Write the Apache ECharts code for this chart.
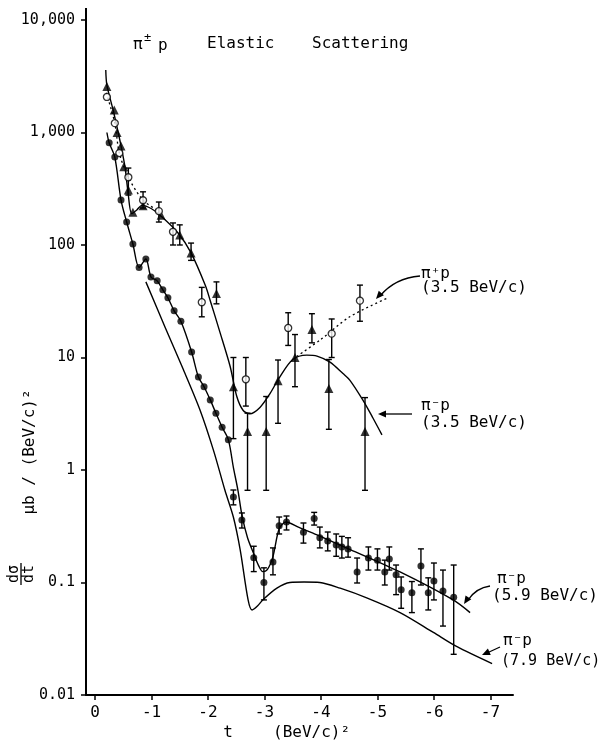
<!DOCTYPE html>
<html><head><meta charset="utf-8">
<script src="https://cdn.jsdelivr.net/npm/echarts@6/dist/echarts.min.js"></script>
<style>html,body{margin:0;padding:0;background:#fff}#c{width:607px;height:745px}</style>
</head><body><div id="c"></div>
<script>
// ---- tick labels ----
const xTickValues = [0, -1, -2, -3, -4, -5, -6, -7];
const yTickValues = [0.01, 0.1, 1, 10, 100, 1000, 10000];
const yTickLabels = ['0.01', '0.1', '1', '10', '100', '1,000', '10,000'];

// ---- pi- p 3.5 BeV/c : filled triangles [t, dσ/dt] ----
const piMinus35Points = [
  [-0.21, 2570], [-0.34, 1585], [-0.39, 1000], [-0.46, 760], [-0.51, 495], [-0.59, 308],
  [-0.67, 195], [-0.85, 223], [-1.17, 184], [-1.5, 123], [-1.70, 85], [-2.15, 37],
  [-2.45, 5.5], [-2.7, 2.2], [-3.03, 2.2], [-3.24, 6.2], [-3.54, 10], [-3.84, 17.7],
  [-4.14, 5.3], [-4.78, 2.2]
];
// error bars [t, low, high]
const piMinus35Errors = [
  [-1.5, 100, 151], [-1.70, 73, 104], [-2.15, 30, 47], [-2.45, 1.9, 10], [-2.7, 0.66, 3.2],
  [-3.03, 0.66, 4.5], [-3.24, 2.6, 9.5], [-3.54, 5.5, 16], [-3.84, 13.5, 24.5],
  [-4.14, 2.3, 9.6], [-4.78, 0.66, 4.4]
];
// theory curve pi- p 3.5
const piMinus35Curve = [
  [-0.19, 3600], [-0.21, 2640], [-0.32, 1585], [-0.41, 1000], [-0.46, 760], [-0.53, 495],
  [-0.58, 308], [-0.65, 190], [-0.74, 205], [-0.83, 225], [-1.0, 210], [-1.15, 184],
  [-1.47, 128], [-1.70, 85], [-1.95, 44], [-2.04, 32], [-2.2, 17.5], [-2.39, 8.4],
  [-2.51, 4.5], [-2.62, 3.4], [-2.74, 3.16], [-2.92, 3.6], [-3.10, 4.8], [-3.27, 6.7],
  [-3.5, 9.6], [-3.75, 10.5], [-3.93, 10.3], [-4.16, 9.1], [-4.39, 7.2], [-4.51, 6.3],
  [-4.74, 4.2], [-4.92, 2.9], [-5.08, 2.05]
];

// ---- pi+ p 3.5 BeV/c : open circles ----
const piPlus35Points = [
  [-0.21, 2070], [-0.35, 1210], [-0.43, 656], [-0.59, 400], [-0.85, 250], [-1.13, 200],
  [-1.38, 131], [-1.89, 31], [-2.67, 6.4], [-3.42, 18.3], [-4.19, 16.3], [-4.69, 32]
];
const piPlus35Errors = [
  [-0.59, 278, 483], [-0.85, 213, 297], [-1.13, 160, 241], [-1.38, 100, 157], [-1.89, 23, 42],
  [-2.67, 3.7, 10], [-3.42, 12.8, 25], [-4.19, 10, 22], [-4.69, 21, 44]
];
// dotted curves for pi+ p
const piPlus35CurveLow = [
  [-0.2, 2250], [-0.35, 1210], [-0.43, 656], [-0.59, 400], [-0.85, 250], [-1.13, 200]
];
const piPlus35CurveHigh = [
  [-3.57, 10.2], [-4.0, 14.5], [-4.51, 23], [-5.19, 34]
];

// ---- pi- p 5.9 BeV/c : filled circles ----
const piMinus59Points = [
  [-0.25, 810], [-0.35, 605], [-0.46, 251], [-0.56, 160], [-0.67, 102], [-0.78, 63],
  [-0.9, 75], [-0.99, 52], [-1.1, 48], [-1.2, 40], [-1.29, 34], [-1.4, 26], [-1.52, 21],
  [-1.71, 11.2], [-1.83, 6.7], [-1.93, 5.5], [-2.04, 4.2], [-2.14, 3.2], [-2.25, 2.4],
  [-2.36, 1.86], [-2.45, 0.575], [-2.6, 0.36], [-2.81, 0.166], [-2.99, 0.10], [-3.15, 0.152],
  [-3.26, 0.32], [-3.39, 0.345], [-3.69, 0.28], [-3.88, 0.37], [-3.98, 0.25], [-4.12, 0.234],
  [-4.27, 0.215], [-4.37, 0.207], [-4.48, 0.199], [-4.64, 0.124], [-4.84, 0.165],
  [-5.0, 0.158], [-5.13, 0.124], [-5.21, 0.162], [-5.33, 0.117], [-5.42, 0.086],
  [-5.61, 0.081], [-5.77, 0.14], [-5.9, 0.081], [-6.0, 0.103], [-6.16, 0.084], [-6.35, 0.074]
];
const piMinus59Errors = [
  [-2.45, 0.49, 0.664], [-2.6, 0.305, 0.415], [-2.81, 0.125, 0.21], [-2.99, 0.07, 0.135],
  [-3.15, 0.117, 0.203], [-3.26, 0.27, 0.382], [-3.39, 0.293, 0.39], [-3.69, 0.224, 0.338],
  [-3.88, 0.324, 0.42], [-3.98, 0.203, 0.311], [-4.12, 0.191, 0.281], [-4.27, 0.171, 0.27],
  [-4.37, 0.165, 0.257], [-4.48, 0.168, 0.25], [-4.64, 0.099, 0.165], [-4.84, 0.129, 0.207],
  [-5.0, 0.129, 0.199], [-5.13, 0.095, 0.158], [-5.21, 0.129, 0.207], [-5.33, 0.078, 0.143],
  [-5.42, 0.059, 0.112], [-5.61, 0.054, 0.102], [-5.77, 0.095, 0.199], [-5.9, 0.057, 0.11],
  [-6.0, 0.07, 0.149], [-6.16, 0.041, 0.129], [-6.35, 0.023, 0.143]
];
const piMinus59Curve = [
  [-0.21, 1000], [-0.25, 810], [-0.35, 605], [-0.46, 251], [-0.56, 160], [-0.67, 102],
  [-0.78, 63], [-0.9, 75], [-0.99, 52], [-1.1, 48], [-1.2, 40], [-1.29, 34], [-1.4, 26],
  [-1.52, 21], [-1.71, 11.2], [-1.83, 6.7], [-1.93, 5.5], [-2.04, 4.2], [-2.14, 3.2],
  [-2.25, 2.4], [-2.36, 1.86], [-2.45, 1.05], [-2.53, 0.66], [-2.6, 0.4], [-2.7, 0.25],
  [-2.81, 0.18], [-2.9, 0.14], [-2.97, 0.125], [-3.05, 0.13], [-3.15, 0.17], [-3.26, 0.3],
  [-3.38, 0.345], [-3.6, 0.31], [-3.93, 0.265], [-4.51, 0.197], [-5.4, 0.124],
  [-6.34, 0.07], [-6.64, 0.054]
];

// ---- pi- p 7.9 BeV/c : curve only ----
const piMinus79Curve = [
  [-0.9, 47], [-1.24, 18.6], [-1.55, 8.1], [-1.86, 3.4], [-2.1, 1.48], [-2.3, 0.66],
  [-2.45, 0.38], [-2.57, 0.195], [-2.71, 0.07], [-2.78, 0.057], [-2.88, 0.062],
  [-2.97, 0.07], [-3.22, 0.089], [-3.45, 0.1], [-3.7, 0.101], [-3.98, 0.1], [-4.34, 0.089],
  [-4.81, 0.073], [-5.4, 0.054], [-5.99, 0.036], [-6.4, 0.027], [-7.03, 0.019]
];

const FONT = '"DejaVu Sans Mono", monospace';
const chart = echarts.init(document.getElementById('c'), null, { renderer: 'canvas' });

function fmtY(v) {
  for (let i = 0; i < yTickValues.length; i++) {
    if (Math.abs(Math.log10(v) - Math.log10(yTickValues[i])) < 1e-6) return yTickLabels[i];
  }
  return '';
}

function errorRender(params, api) {
  const x = api.value(0), lo = api.value(1), hi = api.value(2);
  const p1 = api.coord([x, hi]);
  const p2 = api.coord([x, lo]);
  const w = 3;
  const st = { stroke: '#000', lineWidth: 1.4 };
  return {
    type: 'group',
    children: [
      { type: 'line', shape: { x1: p1[0], y1: p1[1], x2: p2[0], y2: p2[1] }, style: st },
      { type: 'line', shape: { x1: p1[0] - w, y1: p1[1], x2: p1[0] + w, y2: p1[1] }, style: st },
      { type: 'line', shape: { x1: p2[0] - w, y1: p2[1], x2: p2[0] + w, y2: p2[1] }, style: st }
    ]
  };
}

function lineSeries(data, dotted) {
  return {
    type: 'line', data: data, showSymbol: false, symbol: 'none', smooth: 0.3,
    lineStyle: { color: '#000', width: dotted ? 1.3 : 1.4, type: dotted ? [2, 3] : 'solid' },
    z: 2, silent: true, animation: false
  };
}

function arrowHead(x, y, ang) {
  const L = 8, W = 3.5;
  const c = Math.cos(ang), s = Math.sin(ang);
  const bx = x - L * c, by = y - L * s;
  return {
    type: 'polygon',
    shape: { points: [[x, y], [bx - W * s, by + W * c], [bx + W * s, by - W * c]] },
    style: { fill: '#000' }
  };
}

function txt(x, y, text, size, align, rot) {
  return {
    type: 'text', x: x, y: y, rotation: rot || 0,
    style: { text: text, font: size + 'px ' + FONT, fill: '#000', textAlign: align || 'left', textVerticalAlign: 'middle' }
  };
}

const allErrors = piMinus35Errors.concat(piPlus35Errors, piMinus59Errors);

chart.setOption({
  animation: false,
  backgroundColor: '#fff',
  grid: { left: 86, right: 94, top: 20, bottom: 50 },
  xAxis: {
    type: 'value', inverse: true, min: -7.4, max: 0.16,
    axisLine: { onZero: false, lineStyle: { color: '#000', width: 2 } },
    axisTick: { show: true, customValues: xTickValues, length: 5, lineStyle: { color: '#000', width: 1.5 } },
    axisLabel: { customValues: xTickValues, color: '#000', fontFamily: FONT, fontSize: 16, margin: 10,
      formatter: v => (v === 0 ? '0' : String(v)) },
    splitLine: { show: false }
  },
  yAxis: {
    type: 'log', logBase: 10, min: 0.01, max: 10000,
    axisLine: { onZero: false, lineStyle: { color: '#000', width: 2 } },
    axisTick: { show: true, length: 5, lineStyle: { color: '#000', width: 1.5 } },
    axisLabel: { color: '#000', fontFamily: FONT, fontSize: 15, margin: 11, formatter: fmtY },
    splitLine: { show: false },
    minorTick: { show: false }
  },
  series: [
    lineSeries(piMinus35Curve, false),
    lineSeries(piPlus35CurveLow, true),
    lineSeries(piPlus35CurveHigh, true),
    lineSeries(piMinus59Curve, false),
    lineSeries(piMinus79Curve, false),
    {
      type: 'custom', renderItem: errorRender, data: allErrors,
      encode: { x: 0, y: [1, 2] }, z: 3, silent: true
    },
    {
      type: 'scatter', data: piMinus35Points, symbol: 'triangle', symbolSize: 9,
      itemStyle: { color: '#000' }, z: 5, silent: true
    },
    {
      type: 'scatter', data: piPlus35Points, symbol: 'circle', symbolSize: 7,
      itemStyle: { color: '#fff', borderColor: '#000', borderWidth: 1.3 }, z: 6, silent: true
    },
    {
      type: 'scatter', data: piMinus59Points, symbol: 'circle', symbolSize: 7,
      itemStyle: { color: '#000' }, z: 5, silent: true
    }
  ],
  graphic: [
    // axis line extension above the top tick
    { type: 'line', shape: { x1: 86, y1: 8, x2: 86, y2: 20 }, style: { stroke: '#000', lineWidth: 2 } },
    // title
    txt(133, 45, 'π', 16),
    txt(144, 38, '±', 12),
    txt(158, 46, 'p', 16),
    txt(207, 44, 'Elastic', 16),
    txt(312, 44, 'Scattering', 16),
    // annotations
    txt(421, 274, 'π⁺p', 16),
    txt(421, 288, '(3.5 BeV/c)', 16),
    txt(421, 406, 'π⁻p', 16),
    txt(421, 423, '(3.5 BeV/c)', 16),
    txt(497, 579, 'π⁻p', 16),
    txt(492, 596, '(5.9 BeV/c)', 16),
    txt(503, 641, 'π⁻p', 16),
    txt(501, 661, '(7.9 BeV/c)', 15),
    // arrows
    { type: 'bezierCurve', shape: { x1: 420, y1: 276, x2: 380, y2: 296, cpx1: 395, cpy1: 278 }, style: { stroke: '#000', lineWidth: 1.3, fill: 'none' } },
    arrowHead(376, 299, Math.atan2(297 - 278, 378 - 395)),
    { type: 'line', shape: { x1: 412, y1: 414, x2: 384, y2: 414 }, style: { stroke: '#000', lineWidth: 1.3 } },
    arrowHead(378, 414, Math.PI),
    { type: 'bezierCurve', shape: { x1: 490, y1: 586, x2: 468, y2: 600, cpx1: 476, cpy1: 588 }, style: { stroke: '#000', lineWidth: 1.3, fill: 'none' } },
    arrowHead(464, 604, Math.atan2(600 - 588, 468 - 476)),
    { type: 'line', shape: { x1: 500, y1: 647, x2: 487, y2: 653 }, style: { stroke: '#000', lineWidth: 1.3 } },
    arrowHead(482, 655, Math.atan2(655 - 647, 482 - 500)),
    // axis titles
    txt(228, 733, 't', 16, 'center'),
    txt(273, 733, '(BeV/c)²', 16),
    txt(30, 452, 'μb / (BeV/c)²', 16, 'center', Math.PI / 2),
    txt(14, 574, 'dσ', 15, 'center', Math.PI / 2),
    { type: 'line', shape: { x1: 21, y1: 563, x2: 21, y2: 585 }, style: { stroke: '#000', lineWidth: 1.3 } },
    txt(29, 574, 'dt', 15, 'center', Math.PI / 2)
  ]
});
</script>
</body></html>
